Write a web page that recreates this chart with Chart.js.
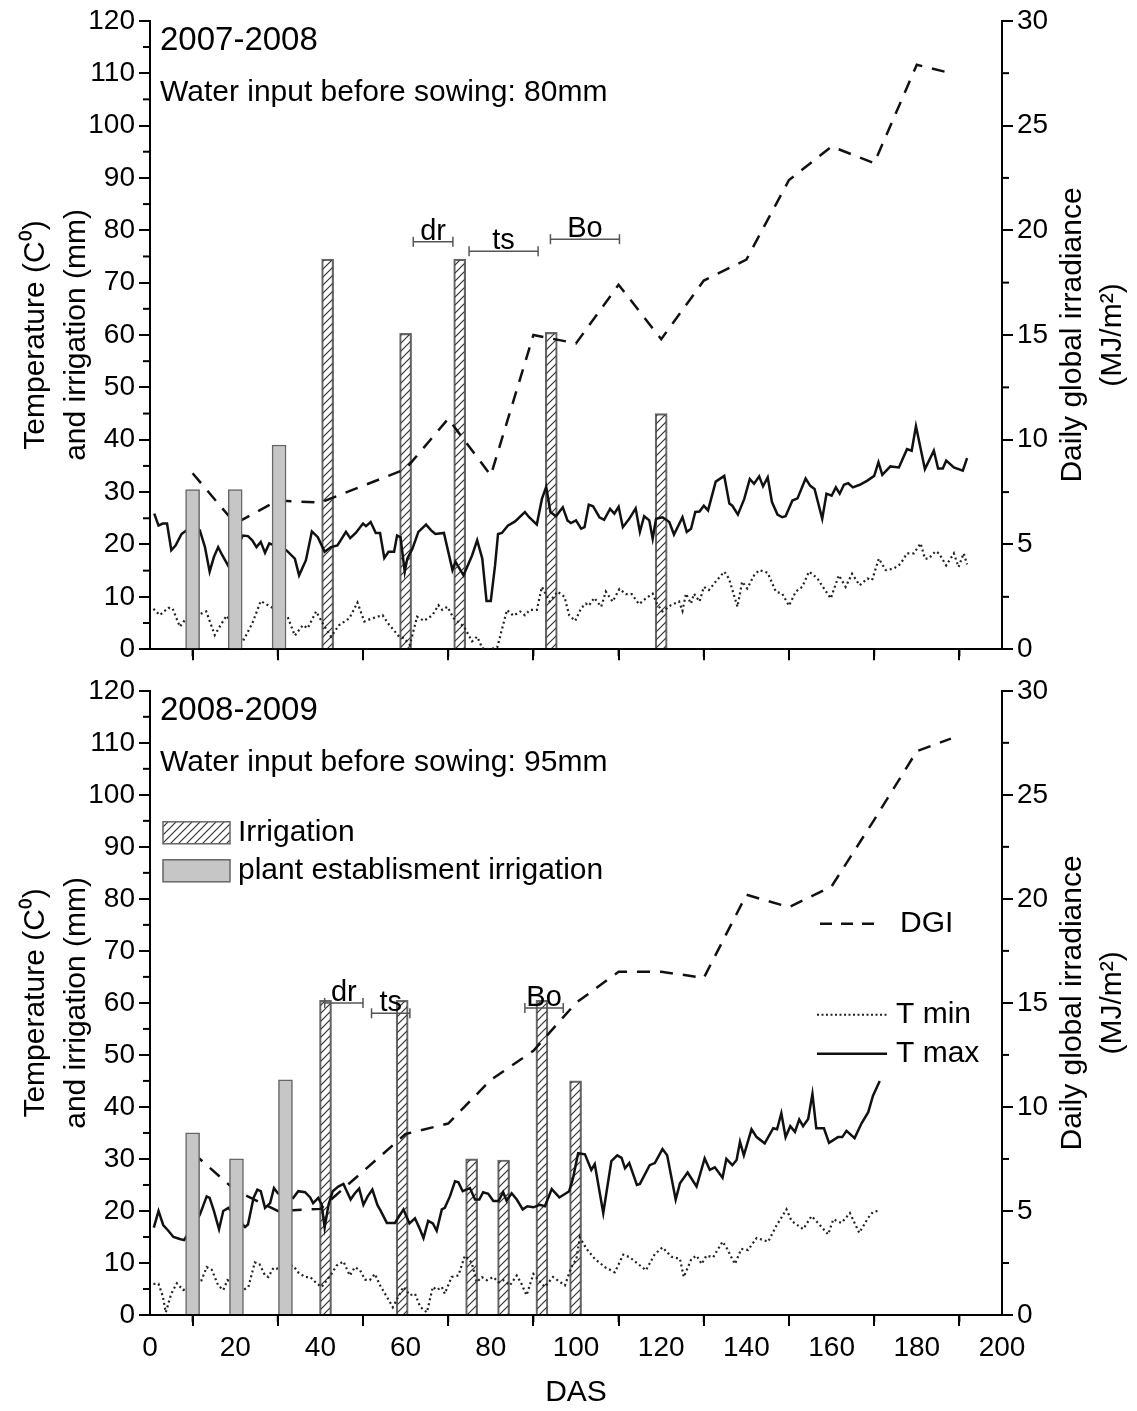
<!DOCTYPE html>
<html>
<head>
<meta charset="utf-8">
<script src="https://cdn.jsdelivr.net/npm/chart.js@4.4.1/dist/chart.umd.min.js"></script>
<style>
  html, body { margin: 0; padding: 0; background: #fff; }
  #wrap { position: relative; width: 1137px; height: 1411px; }
  #wrap canvas { position: absolute; left: 0; }
</style>
</head>
<body>
<div id="wrap">
  <canvas id="chart0708" width="1137" height="670" style="top:0"></canvas>
  <canvas id="chart0809" width="1137" height="741" style="top:670px"></canvas>
</div>
<script>
// ---- 2007-2008 season ----
const tmax0708 = [[1,25.9],[2,23.6],[3,24],[4,24],[5,18.9],[6,19.8],[7.4,22],[8.6,22.7],[10,23.6],[11.7,22.7],[12.9,19.5],[14,14.8],[15,17.6],[16,19.5],[17,17.9],[18.3,16],[21.8,21.7],[23,21.6],[24,20.8],[25,19.5],[26,20.5],[27,18.4],[28,20.2],[32,18.9],[34,17.3],[35,14.1],[36.6,17],[38,22.5],[39.4,21.4],[41,18.6],[42.5,19.5],[44,19.8],[46,22.4],[47,21.2],[48.3,22.2],[50,24],[50.7,23.5],[51.8,24.3],[53,22.2],[54,22.2],[55,17.4],[56,18.6],[57.3,18.6],[58,21.7],[58.8,21.4],[59.8,14.8],[60.4,17.3],[61.6,19.2],[63,22.4],[64.8,23.8],[66,22.7],[67,22],[69,22.2],[71,15.1],[71.7,16.7],[73.6,14.1],[75.6,17.9],[76.8,20.8],[78,17.3],[79,9.2],[80,9.2],[81,16],[81.7,22],[82.6,22.2],[84,23.6],[85.7,24.4],[88,26.2],[89,25.2],[90.8,23.8],[92,28.7],[93,31],[94,26.2],[95.3,25.4],[96.9,27.1],[98,24.6],[98.8,24.1],[100,24.6],[101.2,23],[102,23.3],[103,27.6],[104,27.3],[105.5,25.2],[106.6,24.7],[108,26.8],[109,25.9],[110,27.2],[111,23.3],[112.5,24.9],[114,26.9],[115,22.4],[116,25.4],[117.2,24.6],[118,21.1],[118.8,24.9],[120.3,25.2],[121.9,24.3],[123,21.9],[125,25.2],[126,22.4],[127,23],[128,26.2],[129,26.3],[130,27.4],[131,26.5],[132.8,32],[134.8,33.1],[136,27.8],[136.7,27.4],[138,25.7],[139.5,28.7],[140.8,32.5],[141.8,31.6],[143,33],[143.9,31.1],[145,32.8],[146,28.1],[147.3,25.7],[148.4,25.2],[149.2,25.4],[150.8,28.4],[152,28.8],[153.9,32.6],[155,31.2],[156,30.6],[157.8,24.9],[158.8,29.7],[160,29.3],[161,30.9],[161.9,29.7],[162.9,31.4],[163.9,31.7],[165,30.9],[166.6,31.4],[168.4,32.2],[170,33.1],[171,35.7],[171.9,33.3],[173.8,34.9],[175.8,34.7],[177.7,38.2],[178.8,37.9],[179.8,42.6],[181.9,34.4],[184,37.9],[185,34.5],[186.1,34.5],[186.9,36],[188.7,34.7],[190.8,34.1],[191.8,36.5]];
const tmin0708 = [[0.8,7.7],[2.3,6.5],[4.3,7.9],[5.3,7.8],[7,4.3],[8.6,6],[12,6.8],[13.2,7.2],[15.2,2.7],[16.8,4.9],[18,6.4],[21.8,1.5],[24,4.9],[26,9.2],[27.7,8.4],[32.3,6.2],[34,2.6],[35.9,4.6],[37,4],[39,7.2],[41,4.3],[42.5,2.4],[44.4,4.6],[46.8,5.9],[48.7,8.9],[50.3,5.3],[52.2,5.9],[54.6,6.5],[56,4.8],[58.5,2.4],[59.6,2.1],[61,0.8],[62.7,6.2],[64.3,5.4],[66.3,6.5],[67.7,8.4],[68.6,7.5],[69.8,8.1],[71.3,5.9],[73.7,4.3],[75.6,1.5],[76.8,2.4],[78,0.2],[79.5,0],[81.5,0.3],[83.8,7.5],[85.3,6.4],[86.9,7.2],[88,6.5],[89.2,7.5],[90.8,7.5],[92,11.9],[93.8,9.1],[95.7,11],[97.3,10],[98.4,6.5],[99.8,5.4],[101.2,7.8],[102.3,8.7],[103,8.3],[104.3,9.8],[105.9,8.1],[107,11],[108.6,9.1],[110.2,11.5],[111.7,10.5],[113.1,10.5],[114.8,8.6],[116.4,9.7],[118,10.6],[119,8.7],[120.3,7.2],[122.3,8.4],[124.2,9.1],[125,7.3],[125.8,10.6],[127,8.7],[127.7,10.6],[129,9.1],[130,11.9],[131.2,11.3],[132.8,12.9],[134.8,14.8],[135.9,13.5],[137.9,8.1],[139,12.9],[140.2,11.6],[141.8,14.1],[143,15.1],[145,14.6],[146.9,11],[148.4,10.6],[150,8.3],[151.6,11],[153.1,11.9],[154.7,14.8],[156.6,13.6],[158.2,11.6],[159.8,9.7],[161.7,14.1],[163.3,11.9],[164.8,14.4],[166.6,12.2],[168.4,13.5],[169.5,13.2],[171.1,17.3],[172.7,15.1],[174.6,15.4],[176.2,16.3],[177.7,18.3],[179.3,18.3],[180.9,20.2],[181.9,17.3],[182.8,17.3],[184.4,18.7],[185.2,18.3],[186.9,16],[188.7,18.3],[189.8,15.7],[191,18.3],[191.8,16.2]];
const dgiDays0708 = [10, 20, 30, 40, 50, 60, 70, 80, 90, 100, 110, 120, 130, 140, 150, 160, 170, 180, 188];
const dgi0708 = [8.4, 6.0, 7.1, 7.0, 7.8, 8.6, 11.0, 8.3, 15.0, 14.6, 17.4, 14.8, 17.6, 18.6, 22.4, 24.0, 23.2, 27.9, 27.5];
const irrDays0708 = [41.7, 60, 72.7, 94.2, 120];
const irrMm0708 = [74.5, 60.3, 74.5, 60.5, 45];
const estDays0708 = [10, 20, 30.3];
const estMm0708 = [30.5, 30.5, 39];
const phaseNames = ['dr', 'ts', 'Bo'];
const phaseFrom0708 = [61.8, 74.9, 94];
const phaseTo0708 = [71.1, 91.1, 110.2];
const phaseAt0708 = [77.8, 76, 78.3];

// ---- 2008-2009 season ----
const tmax0809 = [[0.9,16.8],[2,20],[3.1,17.3],[4.3,16.2],[5.5,15],[7,14.6],[8,14.4],[11.7,19.3],[13.3,22.8],[14,22.5],[15,20],[16.2,16.5],[17.2,20],[18.4,20.6],[22.3,16.9],[23,17.4],[24.3,22.5],[25.2,24.1],[26,23.8],[27,20.6],[28.2,21.5],[29.1,24.4],[30,23.4],[33.6,22.5],[34.8,23.8],[36.4,23.6],[37.6,22.6],[38.3,21.5],[39.5,22.5],[40.3,21.2],[41,16.8],[41.9,21.2],[42.9,23.8],[44.2,24.7],[45.4,25.2],[47.1,22.2],[48.1,23.4],[49.1,24.3],[50.1,21.2],[51.1,22.8],[52.2,24.1],[53.4,21.1],[54.1,20.1],[55.6,17.7],[57.5,17.7],[59.5,20.3],[60.9,17.6],[62.2,18.6],[63.2,16.8],[64.2,14.8],[65.3,18.1],[66.4,17.6],[67.3,16.2],[68.5,20.3],[69.2,20.6],[70.4,22.8],[71.6,25.7],[72.4,25.5],[73.4,23.8],[75.1,24.4],[76.3,22.2],[77.3,22.2],[78.2,23.6],[79.4,23.3],[80.6,21.9],[81.8,21.9],[82.9,23.6],[83.7,22],[84.9,23.4],[86.1,22.2],[87.5,20.3],[88.6,20.9],[90,20.7],[91.5,21.2],[92.7,20.9],[94.3,24.2],[96.1,22.6],[98.4,23.8],[99.3,26.3],[100.5,31.1],[102.1,30.9],[103.6,27.9],[104.4,29],[106.4,19.6],[108.3,29.6],[109.7,30.7],[110.7,30.2],[111.5,28.2],[112.5,29.2],[114.3,25],[115,25.2],[117.3,28.8],[118.5,29.2],[120.3,31.9],[121.4,30.7],[123.4,22.2],[124.4,25.3],[126.2,27.4],[128.3,24.7],[130.2,30.1],[131.4,27.9],[132.6,28.4],[134.4,26.4],[135.3,30],[136.7,28.8],[137.7,29.8],[138.5,33.3],[139.4,30.7],[141.2,35.7],[142.4,34.2],[144.3,33],[146.3,35.9],[147.2,35.7],[148.2,38.8],[149.2,34.2],[150.3,36.3],[151.4,35.2],[152.4,37.6],[153.3,36.3],[154.5,37.7],[155.5,42.5],[156.4,35.9],[158.2,35.9],[159.4,33.1],[161.5,34.2],[162.5,34.2],[163.5,35.4],[165.4,34],[167,36.8],[168.6,39],[169.7,42.1],[171.3,45]];
const tmin0809 = [[0.8,6],[2,6],[3,3.6],[3.7,0.5],[5,4.1],[6.3,6.1],[7.8,4.8],[12.1,6.7],[13.3,9.2],[14.5,8.7],[16,5.7],[17.2,4.8],[18.2,6.7],[21.9,4.8],[23.1,5.4],[24.6,10.1],[25.7,9.8],[27,7.6],[27.8,7.3],[29,9.1],[29.7,8.9],[33.6,9.5],[34.8,8.2],[36.4,7.3],[37.6,7.3],[39.1,6.1],[40.3,5.4],[41.5,6.7],[42.6,7.9],[43.8,9.5],[45.4,10.3],[46.9,7.6],[48.1,9.2],[49.3,8.6],[50.5,6.8],[51.6,6.7],[52.8,7.9],[54,5.7],[55.6,3.5],[57,1.5],[59.5,5.4],[61,3.8],[62.2,4.1],[63.4,1.6],[65,0.5],[66.4,5.4],[67.3,4.8],[68.5,5.4],[69.2,4.1],[70.8,7.3],[72.4,7.6],[73.9,11.4],[75.5,10.1],[76.7,6.3],[77.9,7.3],[79.1,6.7],[80.6,7.3],[81.8,6.3],[82.9,6.7],[84.5,5.7],[86.1,7.6],[87.2,6],[88.4,3.8],[90,7.9],[91.2,6.7],[92.7,5.4],[94.6,7.3],[97.4,5.7],[98.9,9.2],[100.1,10.8],[100.9,14.9],[102.5,12.7],[104.4,10.8],[106.8,9.2],[109.1,8.2],[111.1,11.6],[112.6,11.1],[114.6,9.8],[116.4,8.6],[118.5,11.7],[120.3,13],[122.4,11.2],[124.4,10.8],[125.3,7.3],[127.1,10.8],[128.3,11.4],[129.5,9.8],[130.6,11.4],[132.2,11.1],[134.4,14.1],[135.3,13],[137.3,9.8],[138.8,12.7],[140.4,12.5],[142.4,14.8],[145.1,14.1],[147,17.1],[149.4,20.3],[150.6,18.1],[153.3,16.5],[155.3,19],[156.8,17.7],[159.2,15.5],[160.4,18.4],[162.3,17.7],[164.3,19.6],[166.5,15.8],[168.6,18.7],[169.7,19.8],[171.3,20.1]];
const dgiDays0809 = [10, 20, 30, 40, 50, 60, 70, 80, 90, 100, 110, 120, 130, 140, 150, 160, 170, 180, 188];
const dgi0809 = [7.8, 6.0, 5.0, 5.1, 6.9, 8.7, 9.2, 11.3, 12.7, 15.0, 16.5, 16.5, 16.2, 20.2, 19.6, 20.6, 23.8, 27.1, 27.7];
const irrDays0809 = [41.2, 59.2, 75.5, 83, 92, 99.9];
const irrMm0809 = [60.5, 60.5, 30, 29.8, 60.5, 45];
const estDays0809 = [10, 20.3, 31.8];
const estMm0809 = [35, 30, 45.2];
const phaseFrom0809 = [41, 52, 88];
const phaseTo0809 = [50, 61, 97];
const phaseAt0809 = [60, 58, 59];

const FONT = "'Liberation Sans', Arial, Helvetica, sans-serif";
Chart.defaults.font.family = FONT;
Chart.defaults.color = '#000';

const pts = pairs => pairs.map(p => ({ x: p[0], y: p[1] }));
const zip = (xs, ys) => xs.map((x, i) => ({ x: x, y: ys[i] }));

function line(ctx, x1, y1, x2, y2) {
  ctx.beginPath();
  ctx.moveTo(x1, y1);
  ctx.lineTo(x2, y2);
  ctx.stroke();
}

// diagonal "////" fill used for the irrigation bars
function hatch(ctx) {
  const c = document.createElement('canvas');
  c.width = 8; c.height = 8;
  const g = c.getContext('2d');
  g.strokeStyle = '#333';
  g.lineWidth = 1.2;
  g.beginPath();
  g.moveTo(-2, 10); g.lineTo(10, -2);
  g.moveTo(-2, 2); g.lineTo(2, -2);
  g.moveTo(6, 10); g.lineTo(10, 6);
  g.stroke();
  return ctx.createPattern(c, 'repeat');
}

// minor ticks, axis titles, season text, phase brackets, legend
function decor(spec) {
  return {
    id: 'decor',
    afterDraw(chart) {
      const { ctx, chartArea: a, scales } = chart;
      const x = scales.x, y = scales.y, y2 = scales.y2;
      ctx.save();
      ctx.strokeStyle = '#000';
      ctx.lineWidth = 2;
      for (let v = 10; v < 200; v += 20) { const px = x.getPixelForValue(v); line(ctx, px, a.bottom, px, a.bottom + 7); }
      for (let v = 5; v < 120; v += 10) { const py = y.getPixelForValue(v); line(ctx, a.left - 7, py, a.left, py); }
      for (let v = 2.5; v < 30; v += 5) { const py = y2.getPixelForValue(v); line(ctx, a.right, py, a.right + 7, py); }

      const mid = (a.top + a.bottom) / 2;
      ctx.fillStyle = '#000';
      ctx.font = '30px ' + FONT;
      ctx.textAlign = 'center';
      ctx.textBaseline = 'middle';
      [[36, 'Temperature (C⁰)'], [77, 'and irrigation (mm)'], [1073, 'Daily global irradiance'], [1113, '(MJ/m²)']].forEach(([tx, t]) => {
        ctx.save();
        ctx.translate(tx, mid);
        ctx.rotate(-Math.PI / 2);
        ctx.fillText(t, 0, 0);
        ctx.restore();
      });

      ctx.textAlign = 'left';
      ctx.font = '33px ' + FONT;
      ctx.fillText(spec.season, 160, a.top + 20);
      ctx.font = '30px ' + FONT;
      ctx.fillText(spec.water, 160, a.top + 72);

      // growth phase brackets
      ctx.strokeStyle = '#555';
      ctx.lineWidth = 1.5;
      ctx.textAlign = 'center';
      ctx.textBaseline = 'alphabetic';
      ctx.font = '29px ' + FONT;
      phaseNames.forEach((name, i) => {
        const x1 = x.getPixelForValue(spec.from[i]);
        const x2 = x.getPixelForValue(spec.to[i]);
        const yy = y.getPixelForValue(spec.at[i]);
        line(ctx, x1, yy, x2, yy);
        line(ctx, x1, yy - 5, x1, yy + 5);
        line(ctx, x2, yy - 5, x2, yy + 5);
        ctx.fillText(name, (x1 + x2) / 2, yy - 2);
      });

      if (spec.legend) {
        const t = a.top;
        ctx.textAlign = 'left';
        ctx.textBaseline = 'middle';
        ctx.font = '30px ' + FONT;
        ctx.lineWidth = 1.5;
        ctx.strokeStyle = '#666';
        ctx.fillStyle = spec.pattern;
        ctx.fillRect(163, t + 131, 67, 22);
        ctx.strokeRect(163, t + 131, 67, 22);
        ctx.fillStyle = '#c6c6c6';
        ctx.fillRect(163, t + 169, 67, 22);
        ctx.strokeRect(163, t + 169, 67, 22);
        ctx.fillStyle = '#000';
        ctx.fillText('Irrigation', 238, t + 142);
        ctx.fillText('plant establisment irrigation', 238, t + 180);

        ctx.strokeStyle = '#111';
        ctx.lineWidth = 2.5;
        ctx.setLineDash([12, 9]);
        line(ctx, 820, t + 233, 880, t + 233);
        ctx.setLineDash([2, 2.5]);
        ctx.lineWidth = 2;
        ctx.strokeStyle = '#222';
        line(ctx, 817, t + 324, 887, t + 324);
        ctx.setLineDash([]);
        ctx.lineWidth = 2.5;
        ctx.strokeStyle = '#111';
        line(ctx, 817, t + 363, 887, t + 363);
        ctx.fillText('DGI', 900, t + 233);
        ctx.fillText('T min', 896, t + 324);
        ctx.fillText('T max', 896, t + 363);
      }
      ctx.restore();
    }
  };
}

function makeChart(canvas, s) {
  const ctx = canvas.getContext('2d');
  const pattern = hatch(ctx);
  s.pattern = pattern;
  const tickGrid = { drawOnChartArea: false, drawTicks: true, tickLength: 11, color: '#000', lineWidth: 2 };
  const border = { display: true, color: '#000', width: 2 };
  return new Chart(ctx, {
    type: 'line',
    data: {
      datasets: [
        { type: 'bar', label: 'plant establisment irrigation', data: zip(s.estDays, s.estMm),
          backgroundColor: '#c6c6c6', borderColor: '#666', borderWidth: 1.5,
          barThickness: 14, maxBarThickness: 14, grouped: false, order: 0, yAxisID: 'y' },
        { label: 'T max', data: pts(s.tmax), borderColor: '#111', borderWidth: 2.5,
          pointRadius: 0, tension: 0, order: 1, yAxisID: 'y' },
        { label: 'T min', data: pts(s.tmin), borderColor: '#222', borderWidth: 2.2, borderDash: [2, 3],
          pointRadius: 0, tension: 0, order: 2, yAxisID: 'y' },
        { label: 'DGI', data: zip(s.dgiDays, s.dgi), borderColor: '#111', borderWidth: 2.5, borderDash: [13, 10],
          pointRadius: 0, tension: 0, order: 3, yAxisID: 'y2' },
        { type: 'bar', label: 'Irrigation', data: zip(s.irrDays, s.irrMm),
          backgroundColor: pattern, borderColor: '#666', borderWidth: 1.5,
          barThickness: 12, maxBarThickness: 12, grouped: false, order: 4, yAxisID: 'y' }
      ]
    },
    options: {
      responsive: false,
      animation: false,
      events: [],
      layout: { padding: { top: s.padTop, left: 0, right: 0, bottom: 0 } },
      plugins: { legend: { display: false }, tooltip: { enabled: false } },
      scales: {
        x: {
          type: 'linear', min: 0, max: 200, offset: false,
          ticks: { stepSize: 20, display: s.xLabels, autoSkip: false, maxRotation: 0, padding: 5, font: { size: 28 } },
          grid: tickGrid, border: border,
          title: { display: s.xLabels, text: 'DAS', font: { size: 30 }, padding: { top: 0, bottom: 0 } },
          afterFit: sc => { sc.height = s.xHeight; }
        },
        y: {
          position: 'left', min: 0, max: 120,
          ticks: { stepSize: 10, padding: 4, font: { size: 28 } },
          grid: tickGrid, border: border,
          afterFit: sc => { sc.width = 150; }
        },
        y2: {
          position: 'right', min: 0, max: 30,
          ticks: { stepSize: 5, padding: 4, font: { size: 28 } },
          grid: tickGrid, border: border,
          afterFit: sc => { sc.width = 135; }
        }
      }
    },
    plugins: [decor(s)]
  });
}

makeChart(document.getElementById('chart0708'), {
  tmax: tmax0708, tmin: tmin0708, dgiDays: dgiDays0708, dgi: dgi0708,
  irrDays: irrDays0708, irrMm: irrMm0708, estDays: estDays0708, estMm: estMm0708,
  from: phaseFrom0708, to: phaseTo0708, at: phaseAt0708,
  season: '2007-2008', water: 'Water input before sowing: 80mm',
  padTop: 20, xHeight: 19, xLabels: false, legend: false
});

makeChart(document.getElementById('chart0809'), {
  tmax: tmax0809, tmin: tmin0809, dgiDays: dgiDays0809, dgi: dgi0809,
  irrDays: irrDays0809, irrMm: irrMm0809, estDays: estDays0809, estMm: estMm0809,
  from: phaseFrom0809, to: phaseTo0809, at: phaseAt0809,
  season: '2008-2009', water: 'Water input before sowing: 95mm',
  padTop: 14, xHeight: 96, xLabels: true, legend: true
});
</script>
</body>
</html>
